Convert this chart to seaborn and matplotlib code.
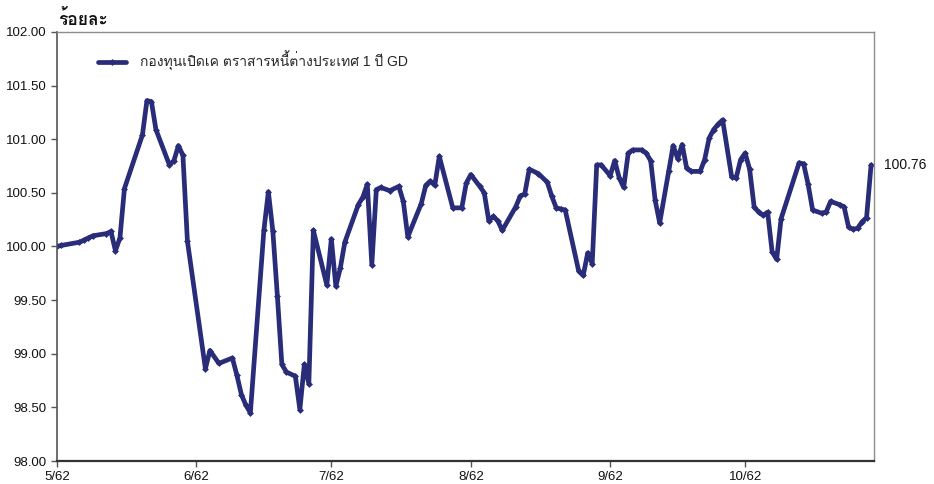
import matplotlib
matplotlib.use("Agg")
import matplotlib.pyplot as plt
import pandas as pd
import seaborn as sns
from matplotlib import font_manager
from matplotlib.ft2font import FT2Font

# days counted from 1 May 2019 (5/62)
days = [0, 1, 5, 6, 7, 8, 11, 12, 13, 14, 15, 19, 20, 21, 22, 25, 26, 27, 28, 29,
        33, 34, 36, 39, 40, 41, 42, 43, 46, 47, 48, 49, 50, 51, 53, 54, 55, 56, 57,
        60, 61, 62, 63, 64, 67, 68, 69, 70, 71, 72, 74, 76, 77, 78, 81, 82, 83, 84,
        85, 88, 90, 91, 92, 94, 95, 96, 97, 98, 99, 102, 103, 104, 105, 107, 109,
        110, 111, 112, 113, 116, 117, 118, 119, 120, 121, 123, 124, 125, 126, 127,
        128, 130, 131, 132, 133, 134, 136, 137, 138, 139, 140, 141, 143, 144, 145,
        146, 147, 148, 150, 151, 152, 153, 154, 155, 156, 157, 158, 159, 160, 161,
        165, 166, 167, 168, 170, 171, 172, 174, 175, 176, 177, 178, 179, 180, 181]
nav = [100.00, 100.01, 100.04, 100.06, 100.08, 100.10, 100.12, 100.14, 99.96, 100.08,
       100.54, 101.04, 101.36, 101.35, 101.09, 100.76, 100.80, 100.94, 100.85, 100.05,
       98.86, 99.03, 98.91, 98.96, 98.80, 98.62, 98.52, 98.45, 100.15, 100.51, 100.14,
       99.54, 98.90, 98.83, 98.79, 98.48, 98.90, 98.72, 100.15, 99.64, 100.07, 99.63,
       99.80, 100.04, 100.39, 100.46, 100.58, 99.83, 100.53, 100.55, 100.52, 100.56,
       100.42, 100.09, 100.40, 100.57, 100.61, 100.57, 100.84, 100.36, 100.36, 100.59,
       100.67, 100.56, 100.50, 100.24, 100.28, 100.24, 100.15, 100.37, 100.47, 100.49,
       100.72, 100.68, 100.60, 100.47, 100.36, 100.35, 100.34, 99.77, 99.73, 99.94,
       99.84, 100.76, 100.76, 100.66, 100.80, 100.64, 100.55, 100.87, 100.90, 100.90,
       100.87, 100.80, 100.43, 100.22, 100.70, 100.94, 100.82, 100.95, 100.73, 100.70,
       100.70, 100.81, 101.01, 101.09, 101.14, 101.18, 100.65, 100.64, 100.81, 100.87,
       100.72, 100.37, 100.32, 100.29, 100.32, 99.95, 99.88, 100.26, 100.78, 100.77,
       100.58, 100.34, 100.31, 100.32, 100.42, 100.39, 100.37, 100.18, 100.16, 100.17,
       100.23, 100.27, 100.76]
month_ticks = ["2019-05-01", "2019-06-01", "2019-07-01", "2019-08-01", "2019-09-01", "2019-10-01"]
month_labels = ["5/62", "6/62", "7/62", "8/62", "9/62", "10/62"]
series_name = "กองทุนเปิดเค ตราสารหนี้ต่างประเทศ 1 ปี GD"
unit_label = "ร้อยละ"
assert len(days) == len(nav)


def thai_family():
    # first installed font that has Thai glyphs
    for f in font_manager.fontManager.ttflist:
        try:
            if 0x0E01 in FT2Font(f.fname).get_charmap():
                return f.name
        except Exception:
            pass
    return "DejaVu Sans"


start = pd.Timestamp("2019-05-01")
df = pd.DataFrame({"date": start + pd.to_timedelta(days, unit="D"), "nav": nav})

sns.set_style("white")
thai = thai_family()
plt.rcParams["font.family"] = ["Liberation Sans", thai, "DejaVu Sans"]

navy = "#292c78"
fig = plt.figure(figsize=(9.34, 4.84), dpi=100)
ax = fig.add_axes([0.061, 0.0475, 0.875, 0.8865])

sns.lineplot(data=df, x="date", y="nav", ax=ax, color=navy, linewidth=3.4,
             marker="D", markersize=3.5, markeredgewidth=0, label=series_name)

ax.set_ylim(98, 102)
ax.set_yticks([98 + 0.5 * i for i in range(9)])
ax.set_yticklabels([f"{98 + 0.5 * i:.2f}" for i in range(9)])
ax.set_xlim(start, start + pd.Timedelta(days=181.7))
ax.set_xticks(pd.to_datetime(month_ticks))
ax.set_xticklabels(month_labels)
ax.set_xlabel("")
ax.set_ylabel("")

for side in ["top", "right"]:
    ax.spines[side].set_color("#8c8c8c")
    ax.spines[side].set_linewidth(1.0)
ax.spines["left"].set_color("#555555")
ax.spines["left"].set_linewidth(1.2)
ax.spines["bottom"].set_color("#333333")
ax.spines["bottom"].set_linewidth(1.6)
ax.tick_params(axis="both", which="major", length=4, width=1, color="#555555",
               labelsize=9.5, labelcolor="#111111", direction="out", bottom=True, left=True)
ax.tick_params(axis="x", pad=3)

fig.text(58 / 934, 1 - 25 / 484, unit_label, fontsize=12.5, fontweight="bold",
         ha="left", va="baseline", color="#111111")
last = df.iloc[-1]
ax.annotate(f"{last['nav']:.2f}", xy=(last["date"], last["nav"]), xytext=(9, 0),
            textcoords="offset points", va="center", ha="left", fontsize=10,
            annotation_clip=False, color="#111111")

ax.legend(loc="upper left", bbox_to_anchor=(0.035, 0.985), frameon=False,
          fontsize=10, handlelength=2.0, handletextpad=1.0)

fig.savefig("out.png", dpi=100)
